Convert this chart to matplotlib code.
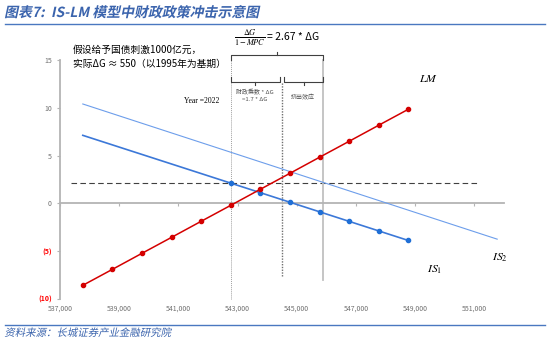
import numpy as np
import matplotlib
matplotlib.use("Agg")
import matplotlib.pyplot as plt
from matplotlib.patheffects import AbstractPathEffect
from matplotlib.transforms import Affine2D

plt.rcParams['font.family'] = ['Noto Sans CJK SC', 'DejaVu Sans']
plt.rcParams['mathtext.fontset'] = 'stix'

# data
income = [537770, 538770, 539770, 540770, 541770, 542770, 543770,
          544770, 545770, 546770, 547770, 548770]
lm = [-8.57, -6.90, -5.22, -3.55, -1.87, -0.20, 1.48, 3.15, 4.83, 6.50, 8.18, 9.85]
is1 = [7.12, 6.12, 5.12, 4.12, 3.12, 2.12, 1.12, 0.12, -0.88, -1.88, -2.88, -3.88]
income2 = [537770 + 1000 * i for i in range(15)]
is2 = [10.40, 9.39, 8.38, 7.37, 6.36, 5.35, 4.34, 3.33, 2.32, 1.31, 0.30,
       -0.71, -1.72, -2.73, -3.74]
x_year = 542770      # Year = 2022
x_mult = 544500      # 财政乘数 boundary
x_shift = 545900     # 挤出效应 boundary
r_level = 2.12
xticks = [537000, 539000, 541000, 543000, 545000, 547000, 549000, 551000]
yticks = [-10, -5, 0, 5, 10, 15]
ylabels = ['(10)', '(5)', '0', '5', '10', '15']


class Slant(AbstractPathEffect):
    """fake italic for fonts without an italic face"""
    def __init__(self, y0, angle=12):
        super().__init__()
        self.y0 = y0
        self.angle = angle

    def draw_path(self, renderer, gc, tpath, affine, rgbFace=None):
        sk = Affine2D().translate(0, -self.y0).skew_deg(self.angle, 0).translate(0, self.y0)
        renderer.draw_path(gc, tpath, affine + sk, rgbFace)


W, H = 550, 341
fig = plt.figure(figsize=(W / 100, H / 100), dpi=100)
ax = fig.add_axes([60 / W, 1 - 299 / H, 444 / W, 239 / H])
ax.set_xlim(537000, 552000)
ax.set_ylim(-10, 15)

gray = '#b4b4b4'
for s in ['top', 'right']:
    ax.spines[s].set_visible(False)
ax.spines['left'].set_color(gray)
ax.spines['left'].set_linewidth(1.3)
ax.spines['bottom'].set_position(('data', 0))
ax.spines['bottom'].set_color(gray)
ax.spines['bottom'].set_linewidth(1.3)

ax.set_xticks(xticks)
ax.set_xticklabels(['{:,}'.format(v) for v in xticks])
ax.set_yticks(yticks)
ax.set_yticklabels(ylabels)
ax.tick_params(axis='x', length=2, color=gray, pad=71, labelsize=5, labelcolor='#707070')
ax.tick_params(axis='y', length=2, color=gray, pad=4, labelsize=5)
for lab, v in zip(ax.get_yticklabels(), yticks):
    lab.set_color('#ff0000' if v < 0 else '#707070')
    if v < 0:
        lab.set_fontweight('bold')

# curves
ax.plot(income2, is2, color='#6d9eeb', lw=0.8, zorder=3)
ax.plot(income, is1, color='#3c78d8', lw=1.2, zorder=4)
ax.plot(income[5:], is1[5:], 'o', color='#1f6fd6', ms=3, zorder=5)
ax.plot(income, lm, color='#d40000', lw=1.1, marker='o', ms=3, zorder=6)

# guide lines
ax.plot([537370, 551080], [r_level, r_level], color='#404040', lw=0.8,
        dashes=(5, 3), zorder=2)
ax.plot([x_year, x_year], [-10, 15], color='#a0a0a0', lw=0.7, ls=(0, (1, 1)),
        clip_on=False, zorder=2)
ax.plot([x_mult, x_mult], [-7.6, 12.73], color='#707070', lw=1.0, ls=(0, (1, 1)),
        clip_on=False, zorder=2)
ax.plot([x_shift, x_shift], [-8.0, 15], color='#c0c0c0', lw=1.3, clip_on=False, zorder=2)


def brace(x0, x1, y, yend, ytip):
    xm = (x0 + x1) / 2
    ax.plot([x0, x0, x1, x1], [yend, y, y, yend], color='#404040', lw=0.8,
            clip_on=False, solid_joinstyle='round')
    ax.plot([xm, xm], [y, ytip], color='#404040', lw=0.8, clip_on=False)


brace(x_year, x_shift, 15.52, 15.0, 15.87)
brace(x_year, x_mult - 80, 12.73, 13.25, 12.38)
brace(x_mult + 80, x_shift, 12.73, 13.25, 12.38)

# labels
fig.text(428 / W, 1 - 79 / H, '$LM$', fontsize=8.5, ha='center', va='center')
fig.text(435 / W, 1 - 270 / H, '$IS_1$', fontsize=8.5, ha='center', va='center')
fig.text(500 / W, 1 - 257 / H, '$IS_2$', fontsize=8.5, ha='center', va='center')
fig.text(202 / W, 1 - 101.5 / H, 'Year =2022', fontsize=5.5, ha='center', va='center',
         family='Liberation Serif')
fig.text(255 / W, 1 - 92.5 / H, '财政乘数 * ΔG', fontsize=4.3, ha='center', va='center',
         color='#505050')
fig.text(255 / W, 1 - 99.5 / H, '=1.7 * ΔG', fontsize=4.3, ha='center', va='center',
         color='#505050')
fig.text(303 / W, 1 - 97 / H, '挤出效应', fontsize=4.3, ha='center', va='center',
         color='#505050')
fig.text(250 / W, 1 - 38 / H, r'$\frac{\Delta G}{1-MPC}$', fontsize=8.5, ha='center',
         va='center')
fig.text(267 / W, 1 - 37.5 / H, '= 2.67 * ΔG', fontsize=7.5, ha='left', va='center')
fig.text(73 / W, 1 - 50 / H, '假设给予国债刺激1000亿元，', fontsize=7, ha='left',
         va='center')
fig.text(73 / W, 1 - 64 / H, '实际ΔG ≈ 550（以1995年为基期）', fontsize=7, ha='left',
         va='center')

# header and footer
blue = '#3b64ad'
fig.text(5 / W, 1 - 13 / H, '图表7:  IS-LM 模型中财政政策冲击示意图', fontsize=10,
         color=blue, ha='left', va='center', fontweight='bold',
         path_effects=[Slant(H - 13)])
fig.text(5 / W, 1 - 333 / H, '资料来源：长城证券产业金融研究院', fontsize=7.5,
         color=blue, ha='left', va='center', path_effects=[Slant(H - 333)])
fig.add_artist(plt.Line2D([5 / W, 545 / W], [1 - 24 / H, 1 - 24 / H], color='#4a78c0', lw=1))
fig.add_artist(plt.Line2D([5 / W, 545 / W], [1 - 325 / H, 1 - 325 / H], color='#4a78c0', lw=1))

fig.savefig('out.png', dpi=100)
